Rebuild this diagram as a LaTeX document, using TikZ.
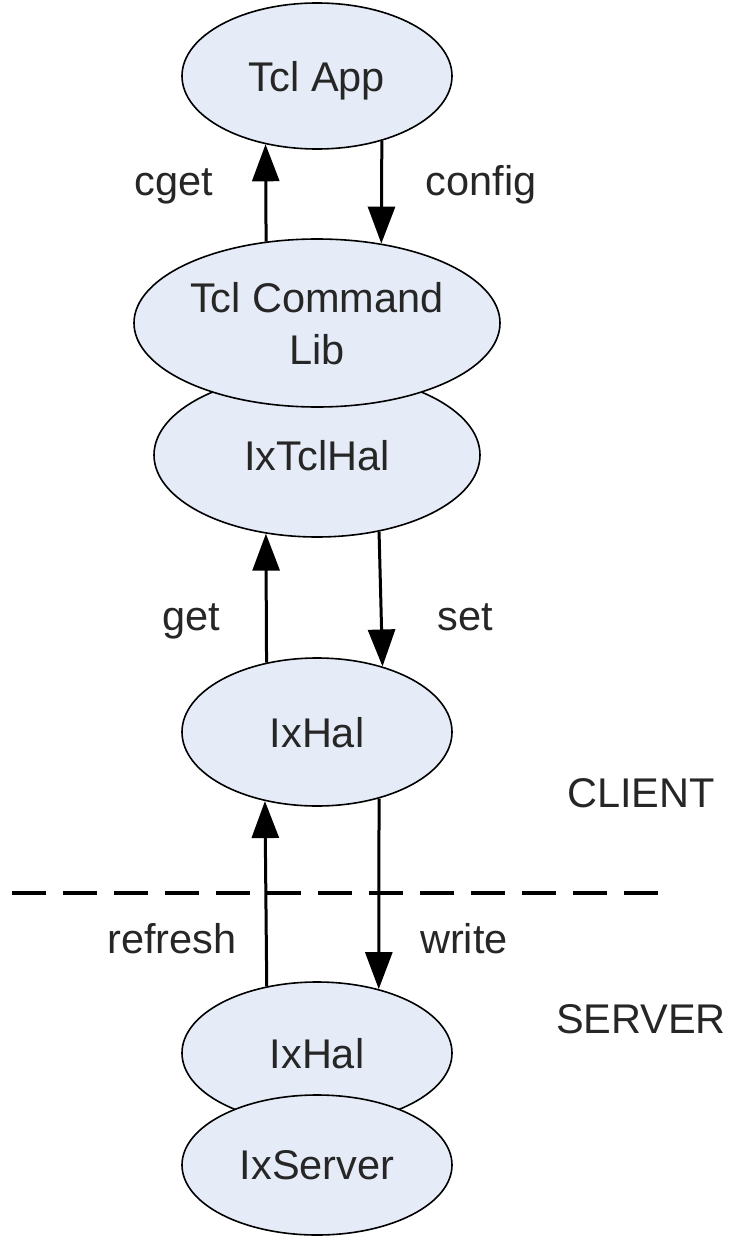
\documentclass[tikz,border=0pt]{standalone}
\usepackage{fontspec}
\setmainfont{Liberation Sans}
\usetikzlibrary{shapes.geometric,arrows.meta}
\definecolor{blobfill}{RGB}{229,235,247}

\begin{document}
\begin{tikzpicture}[x=0.5pt,y=-0.5pt,
    >={Triangle[length=18.5pt,width=13.5pt]},
    every node/.style={font=\fontsize{20.75}{26}\selectfont, text=black!85},
    blob/.style={shape=ellipse, draw, line width=0.8pt, fill=blobfill,
    inner sep=0pt, align=center, text depth=0pt},
    lbl/.style={anchor=base},
    flow/.style={->, line width=1.5pt},
    sepline/.style={line width=2.4pt, dash pattern=on 17pt off 8.5pt}]
    \useasboundingbox (0,0) rectangle (733,1236);
    \node[blob, minimum width=135pt, minimum height=73pt] (app) at (317,76) {Tcl App};
    \node[blob, minimum width=163pt, minimum height=82pt] (tclhal) at (317,455) {IxTclHal};
    \node[blob, minimum width=183pt, minimum height=84pt] (cmdlib) at (317,323) {Tcl Command\\Lib};
    \node[blob, minimum width=135pt, minimum height=74pt] (clienthal) at (317,732) {IxHal};
    \node[blob, minimum width=135pt, minimum height=71pt] (serverhal) at (317,1053) {IxHal};
    \node[blob, minimum width=135pt, minimum height=70pt] (server) at (317,1165) {IxServer};
    \draw[sepline] (12,893) -- (661,893);
    \path[flow]
        (cmdlib.122.9) edge (app.-127.6)
        (app.-45.7) edge (cmdlib.51.4)
        (clienthal.126.7) edge (tclhal.-123.2)
        (tclhal.-51.3) edge (clienthal.45.5)
        (serverhal.127.2) edge (clienthal.-127.3)
        (clienthal.-47.3) edge (serverhal.46.1);
    \node[lbl] (lcget) at (174,195) {cget};
    \node[lbl] (lconfig) at (481,195) {config};
    \node[lbl] (lget) at (191,630) {get};
    \node[lbl] (lset) at (465,630) {set};
    \node[lbl] (lrefresh) at (172,953) {refresh};
    \node[lbl] (lwrite) at (464,953) {write};
    \node[lbl] (lclient) at (641,807) {CLIENT};
    \node[lbl] (lserver) at (641,1033) {SERVER};
\end{tikzpicture}
\end{document}
